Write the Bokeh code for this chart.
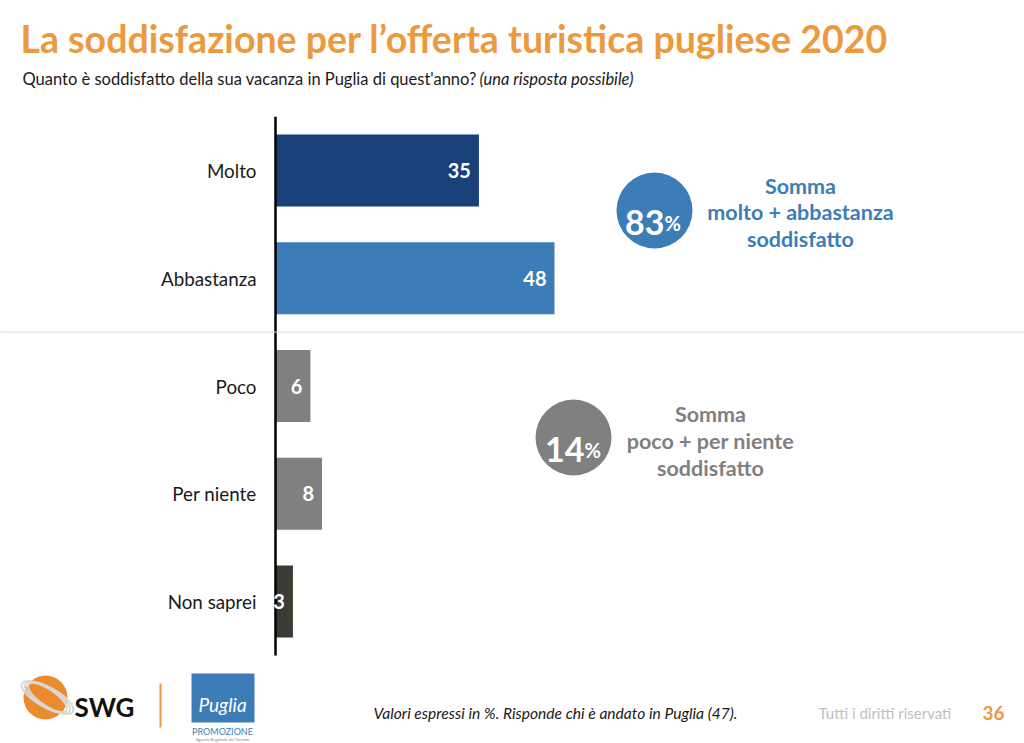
from bokeh.plotting import figure
from bokeh.models import Range1d, Label, Span
from bokeh.core.properties import value
from bokeh.embed import file_html
from bokeh.resources import INLINE

# ---- data ----
categories = ["Molto", "Abbastanza", "Poco", "Per niente", "Non saprei"]
values = [35, 48, 6, 8, 3]
bar_colors = ["#1a4079", "#3c7db8", "#808080", "#808080", "#3b3b35"]
sum_pos_pct = 83
sum_neg_pct = 14

W, H = 1024, 743
ORANGE = "#eb9a3e"
BLUE = "#3c7db8"
GREY = "#808080"
FONT = "Lato"

# pixel layout of the scales (value 0 at px 275, 48 at 554; row 0 at px 170, row step 107.75)
X0, XS = 275.0, (554 - 275) / 48.0
Y0, YS = 170.0, 107.75

def px2x(px):
    return (px - X0) / XS

def px2y(py):
    return (py - Y0) / YS

p = figure(width=W, height=H, output_backend="svg", toolbar_location=None,
           x_range=Range1d(px2x(0), px2x(W)),
           y_range=Range1d(px2y(H), px2y(0)),
           min_border=0, min_border_left=0, min_border_right=0,
           min_border_top=0, min_border_bottom=0)
p.axis.visible = False
p.grid.visible = False
p.outline_line_color = None
p.background_fill_color = "white"
p.border_fill_color = "white"

idx = list(range(len(categories)))

# separator line
p.add_layout(Span(location=1.5, dimension="width", line_color="#d9d9d9", line_width=1))

# bars
p.hbar(y=idx, left=0, right=values, height=0.668, fill_color=bar_colors,
       line_color=None)
# axis line
p.segment(x0=[0], y0=[-0.5], x1=[0], y1=[4.5], line_color="black", line_width=2.5)

# value labels
p.text(x=values, y=idx, text=[str(v) for v in values], x_offset=-8,
       text_align="right", text_baseline="middle", text_color="white",
       text_font=value(FONT), text_font_style="bold", text_font_size="20px")

# category labels
p.text(x=[0] * len(categories), y=idx, text=categories, x_offset=-19,
       text_align="right", text_baseline="middle", text_color="#1a1a1a",
       text_font=value(FONT), text_font_size="18.8px")


def lab(x, y, text, size, color="black", style="normal", align="left",
        baseline="alphabetic", font=FONT):
    p.add_layout(Label(x=x, y=H - y, x_units="screen", y_units="screen",
                       text=text, text_font=font, text_font_size=size,
                       text_color=color, text_font_style=style,
                       text_align=align, text_baseline=baseline))

# title & subtitle
lab(20, 38, "La soddisfazione per l\u2019offerta turistica pugliese 2020", "37.5px",
    ORANGE, "bold")
lab(22, 78, "Quanto è soddisfatto della sua vacanza in Puglia di quest'anno?", "16.5px",
    "#1a1a1a")
lab(479, 78, "(una risposta possibile)", "16.5px", "#1a1a1a", "italic")

# summary circles
p.scatter(x=[px2x(654), px2x(573)], y=[px2y(210), px2y(437)], size=76,
          fill_color=[BLUE, GREY], line_color=None)
lab(664, 222, str(sum_pos_pct), "34px", "white", "bold", "right")
lab(664, 222, "%", "20px", "white", "bold", "left")
lab(584, 449, str(sum_neg_pct), "34px", "white", "bold", "right")
lab(584, 449, "%", "20px", "white", "bold", "left")

for i, t in enumerate(["Somma", "molto + abbastanza", "soddisfatto"]):
    lab(800, 185 + 26.5 * i, t, "21.5px", BLUE, "bold", "center")
for i, t in enumerate(["Somma", "poco + per niente", "soddisfatto"]):
    lab(710, 413 + 27 * i, t, "21.5px", GREY, "bold", "center")

# footer: SWG logo
p.ellipse(x=[px2x(45)], y=[px2y(697)], width=[44 / XS], height=[44 / YS],
          fill_color="#ec8a2e", line_color=None)
p.ellipse(x=[px2x(47)] * 3, y=[px2y(697)] * 3,
          width=[58 / XS, 52 / XS, 46 / XS], height=[20 / YS, 18 / YS, 16 / YS],
          angle=[-0.5, -0.55, -0.6], fill_color=None, line_color="#d8d8d8",
          line_width=2)
lab(74, 706, "SWG", "26px", "#111111", "bold")
p.segment(x0=[px2x(160)], y0=[px2y(683)], x1=[px2x(160)], y1=[px2y(727)],
          line_color=ORANGE, line_width=2)

# footer: Puglia Promozione logo
p.quad(left=[px2x(191)], right=[px2x(254)], top=[px2y(673)], bottom=[px2y(722)],
       fill_color=BLUE, line_color=None)
lab(222, 704, "Puglia", "19px", "white", "italic", "center")
lab(222, 731, "PROMOZIONE", "9px", BLUE, "normal", "center")
lab(222, 739, "Agenzia Regionale del Turismo", "4px", "#888888", "normal", "center")

# footer texts
lab(373, 712, "Valori espressi in %. Risponde chi è andato in Puglia (47).", "15.6px",
    "#1a1a1a", "italic")
lab(818, 712, "Tutti i diritti riservati", "15px", "#c0c0c0")
lab(1004, 712, "36", "19px", ORANGE, "bold", "right")

html = file_html(p, INLINE)
html = html.replace("<head>", "<head><style>html,body{margin:0;padding:0;overflow:hidden}</style>", 1)
open("out.html", "w").write(html)
